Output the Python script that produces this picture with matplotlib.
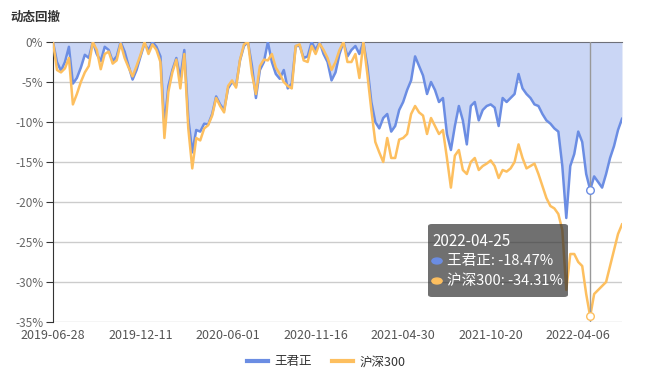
import matplotlib
matplotlib.use("Agg")
import matplotlib.pyplot as plt
from matplotlib.patches import FancyBboxPatch
from matplotlib.lines import Line2D
import numpy as np

plt.rcParams['font.family'] = ['Noto Sans CJK SC', 'DejaVu Sans']

# 数据: 每 5 个交易日取一个点 (回撤, %)
tick_labels = ["2019-06-28", "2019-12-11", "2020-06-01", "2020-11-16",
               "2021-04-30", "2021-10-20", "2022-04-06"]
tick_step = 22  # 110 个交易日 / 5

wang = [0, -2.5, -3.6, -2.5, -0.6, -5.2, -4.5, -3.2, -1.6, -2.0,
        0, -1.5, -2.4, -0.6, -1.0, -2.4, -1.8, 0, -1.2, -3.0,
        -4.7, -3.5, -1.8, -0.2, -1.0, 0, -0.6, -1.8, -10.5, -5.5,
        -3.5, -2.0, -4.5, -1.0, -9.5, -13.8, -11.0, -11.2, -10.2, -10.3,
        -9.0, -6.8, -7.8, -8.5, -5.8, -5.0, -5.5, -2.3, -0.5, 0,
        -3.0, -7.0, -3.5, -2.5, 0, -2.5, -4.0, -4.6, -3.5, -5.8,
        -5.2, -0.5, -0.5, -2.0, -1.8, 0, -1.0, 0, -1.5, -2.5,
        -4.8, -3.8, -1.5, 0, -1.8, -1.0, -0.5, -1.5, 0, -3.0,
        -7.5, -10.0, -10.8, -9.5, -9.0, -11.2, -10.5, -8.5, -7.5, -6.0,
        -4.8, -1.8, -3.0, -4.2, -6.5, -5.0, -6.0, -7.5, -7.0, -11.5,
        -13.5, -10.5, -8.0, -9.8, -12.8, -8.0, -7.5, -9.8, -8.5, -8.0,
        -7.8, -8.2, -10.5, -7.0, -7.5, -7.0, -6.5, -4.0, -5.8, -6.5,
        -7.0, -7.8, -8.0, -9.0, -9.8, -10.2, -10.8, -11.2, -15.5, -22.0,
        -15.5, -14.0, -11.2, -12.5, -16.5, -18.47, -16.8, -17.5, -18.2, -16.5,
        -14.5, -13.0, -11.0, -9.6]

hs300 = [0, -3.5, -3.8, -3.3, -2.0, -7.8, -6.5, -5.0, -3.8, -3.0,
         0, -1.0, -3.4, -1.5, -1.2, -2.7, -2.3, -0.2, -2.0, -3.2,
         -4.3, -3.0, -1.6, 0, -1.5, -0.3, -1.0, -2.5, -12.0, -6.2,
         -3.8, -2.2, -5.8, -1.5, -10.8, -15.8, -12.0, -12.3, -10.8, -10.4,
         -9.2, -7.0, -8.0, -8.8, -5.5, -4.8, -5.7, -2.2, -0.3, 0,
         -4.0, -6.5, -3.0, -2.2, -2.3, -1.5, -3.2, -4.0, -5.0, -5.5,
         -5.8, -0.5, -0.3, -2.3, -2.5, -0.5, -1.5, -0.2, -1.0, -2.0,
         -3.5, -2.5, -1.0, 0, -2.5, -2.5, -1.5, -4.5, 0, -4.0,
         -8.5, -12.5, -13.8, -15.0, -12.0, -14.5, -14.5, -12.2, -12.0, -11.5,
         -9.0, -8.0, -8.8, -9.2, -11.5, -9.5, -10.5, -11.5, -11.0, -14.5,
         -18.2, -14.2, -13.5, -16.0, -16.5, -15.0, -14.5, -16.0, -15.5, -15.2,
         -14.8, -15.5, -17.0, -16.0, -16.2, -15.8, -15.0, -12.8, -14.5, -15.8,
         -15.5, -15.2, -16.5, -18.0, -19.5, -20.5, -20.8, -21.5, -23.5, -31.0,
         -26.5, -26.5, -27.5, -28.0, -31.5, -34.31, -31.5, -31.0, -30.5, -30.0,
         -28.0, -26.0, -24.0, -22.8]

tip_date = "2022-04-25"
tip_idx = 135

blue = '#6b8de3'
fill_blue = '#cad6f5'
orange = '#fdbf5f'

W, H = 655, 379
fig = plt.figure(figsize=(W / 100, H / 100), dpi=100)
ax = fig.add_axes([53 / W, 1 - 322 / H, (622 - 53) / W, (322 - 42) / H])

x = np.arange(len(wang))
ax.fill_between(x, wang, 0, color=fill_blue, linewidth=0, zorder=1)
ax.plot(x, wang, color=blue, linewidth=1.8, zorder=3)
ax.plot(x, hs300, color=orange, linewidth=1.8, zorder=4)

ax.set_xlim(0, len(wang) - 1)
ax.set_ylim(-35, 0)
ax.set_yticks(np.arange(-35, 1, 5))
ax.set_yticklabels([f"{v}%" for v in np.arange(-35, 1, 5)])
ax.set_xticks(np.arange(len(tick_labels)) * tick_step)
ax.set_xticklabels(tick_labels)

ax.yaxis.grid(True, color='#cccccc', linewidth=1, zorder=0)
ax.set_axisbelow(True)
for s in ['right', 'bottom']:
    ax.spines[s].set_visible(False)
ax.spines['left'].set_color('#333333')
ax.spines['top'].set_color('#6e7079')
ax.tick_params(axis='y', direction='out', length=5, color='#333333',
               labelcolor='#666666', labelsize=8.5, pad=2)
ax.tick_params(axis='x', top=True, bottom=False, direction='in', length=4,
               color='#6e7079', labelcolor='#555555', labelsize=9, pad=5)

# tooltip
ax.axvline(tip_idx, color='#999999', linewidth=1, zorder=5)
ax.scatter([tip_idx], [wang[tip_idx]], s=30, facecolor='white', edgecolor=blue,
           linewidth=1, zorder=6)
ax.scatter([tip_idx], [hs300[tip_idx]], s=30, facecolor='white', edgecolor=orange,
           linewidth=1, zorder=6)

def fx(px):
    return px / W

def fy(py):
    return 1 - py / H

box = FancyBboxPatch((fx(428), fy(297)), fx(568) - fx(428), fy(224) - fy(297),
                     boxstyle="round,pad=0,rounding_size=0.006",
                     transform=fig.transFigure, facecolor=(0.2, 0.2, 0.2, 0.7),
                     edgecolor='none', zorder=10)
fig.patches.append(box)
fig.text(fx(432), fy(241), tip_date, color='white', fontsize=11, va='center', zorder=11)
fig.patches.append(plt.Circle((fx(437), fy(261)), 0.0078, transform=fig.transFigure,
                              color=blue, zorder=11))
fig.patches.append(plt.Circle((fx(437), fy(281)), 0.0078, transform=fig.transFigure,
                              color=orange, zorder=11))
fig.text(fx(447), fy(261), f"王君正: {wang[tip_idx]:.2f}%", color='white',
         fontsize=10.5, va='center', zorder=11)
fig.text(fx(447), fy(281), f"沪深300: {hs300[tip_idx]:.2f}%", color='white',
         fontsize=10.5, va='center', zorder=11)

fig.text(fx(10), fy(17), "动态回撤", fontsize=9, fontweight='bold',
         color='#333333', va='center')

handles = [Line2D([], [], color=blue, linewidth=3),
           Line2D([], [], color=orange, linewidth=3)]
fig.legend(handles, ["王君正", "沪深300"], loc='center', ncol=2,
           bbox_to_anchor=(fx(326), fy(362)), frameon=False, fontsize=9,
           handlelength=1.7, columnspacing=1.6, handletextpad=0.5,
           labelcolor='#333333')

fig.savefig("out.png", dpi=100)
